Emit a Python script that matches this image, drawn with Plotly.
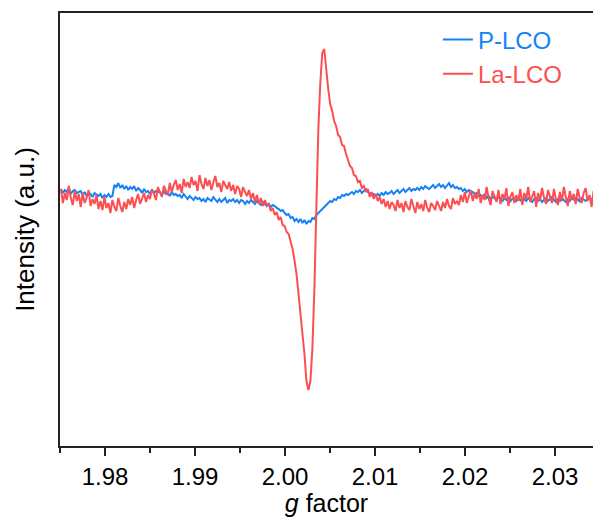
import numpy as np
import plotly.graph_objects as go

# g-factor sampling (start, step)
g_start = 1.9751
g_step = 0.00022

# Intensities (a.u.) (baseline ~0)
p_lco = [6, 2, 5, 3, 7, 1, 4, 5, 2, 3,
         4, 0, 3, -1, 2, 1, -2, 2, 0, -1,
         1, -3, 0, -2, 1, -2, -1,
         10, 8, 12,
         7, 10, 6, 9, 5, 8, 6, 9, 4, 7,
         5, 2, 6, 3, 4, 1, 5, 2, 4, 3,
         3, 0, 4, 1, 2, -1, 3, 0, 1, -1,
         0, -3, 1, -2, -4, -1, -3, -5, -2, -4,
         -3, -6, -4, -7, -3, -5, -6, -2, -5, -7,
         -4, -7, -5, -3, -8, -5, -6, -4, -7, -5,
         -8, -5, -6, -9, -6, -8, -5, -7, -9, -6,
         -8, -10, -7, -9, -11, -9, -12, -10, -11, -13,
         -14, -16, -15, -18, -20, -19, -23, -22, -26, -24,
         -27, -24, -28, -25, -29, -26, -27, -23, -24, -20,
         -18, -15, -14, -11, -9, -8, -6, -7, -4, -5,
         -2, -3, 0, -1, 1, 0, 2, 3, 1, 4,
         3, 5, 2, 4, 6, 3, 2, 0, 1, -1,
         1, -1, 2, 0, 3, 1, 2, 4, 1, 3,
         5, 2, 4, 6, 3, 5, 7, 4, 6, 5,
         7, 5, 8, 6, 9, 7, 6, 8, 10, 7,
         9, 11, 8, 10, 7, 9, 12, 8, 10, 7,
         8, 6, 7, 4, 6, 3, 5, 2, 3, 1,
         2, -1, 0, -2, 1, -3, -1, -4, -2, -3,
         -5, -2, -4, -6, -3, -5, -2, -6, -4, -3,
         -6, -3, -5, -7, -4, -6, -3, -5, -7, -4,
         -3, -6, -4, -7, -5, -3, -6, -4, -2, -5,
         -7, -4, -6, -3, -5, -7, -4, -6, -3, -5,
         -6, -4, -7, -3, -5, -6, -4, -2, -5, -6, -4]

la_lco = [6, -8, 2, -5, 9, -3, -10, 4, -6, 1,
          -12, 2, -8, -3, 5, -11, -4, -9, 0, -14,
          -6, -15, -2, -13, -8, -18, -5, -12, -16, -3,
          -11, -17, -7, -14, -4,
          -10, -2, -13, -5, 1, -9, -3, 2, -7, 0,
          -4, 6, 1, -5, 8, 2, -2, 9, 4, 0,
          12, 3, 10, 15, 5, 11, 2, 16, 8, 13,
          7, 18, 10, 14, 4, 20, 11, 6, 17, 9,
          15, 5, 13, 19, 8, 12, 3, 14, 10, 6,
          13, 4, 10, 1, 9, 6, -2, 8, 3, -1,
          5, -4, 2, -7, 0, -9, -3, -11, -5, -10,
          -9, -16, -13, -20, -17, -25, -22,
          -30, -31, -37, -39, -47, -54, -66, -79, -99, -117, -141, -159, -186,
          -195, -186, -154, -95, -10, 65, 112, 142, 146, 124, 106,
          91, 84, 74, 69, 60, 58, 50, 49, 41, 36, 29, 27, 20, 19, 13,
          14, 7, 9, 3, 6, -2, 3, -4, 1, -6,
          -2, -9, -4, -12, -6, -14, -7, -10, -16, -5,
          -13, -8, -17, -6, -12, -15, -4, -11, -18, -7,
          -14, -9, -16, -5, -13, -17, -8, -11, -15, -6,
          -12, -16, -7, -13, -4, -11, -14, -3, -9, -6,
          -10, 0, -7, 3, -8, -2, 5, -6, 1, -4,
          6, -8, 0, -5, 8, -3, -10, 4, -1, -7,
          5, -9, 1, -4, 7, -11, -2, 3, -8, 0,
          -6, 6, -10, 2, -4, 8, -7, -1, 4, -12,
          2, -5, 7, -3, -9, 5, -1, -8, 6, -4,
          -10, 3, -6, 8, -2, -11, 4, -5, 1, -9,
          6, -3, -8, 2, 7, -6, 0, -12, 4, -2]

g_blue = np.round(g_start + g_step * np.arange(len(p_lco)), 6)
g_red = np.round(g_start + g_step * np.arange(len(la_lco)), 6)

blue = "#1582f5"
red = "#fc4f52"
axis_col = "#222222"

fig = go.Figure()
fig.add_trace(go.Scatter(x=g_blue, y=p_lco, mode="lines",
                         line=dict(color=blue, width=2),
                         name=f"<span style='color:{blue}'>P-LCO</span>"))
fig.add_trace(go.Scatter(x=g_red, y=la_lco, mode="lines",
                         line=dict(color=red, width=2),
                         name=f"<span style='color:{red}'>La-LCO</span>"))

fig.update_layout(
    width=593, height=517,
    margin=dict(l=60, r=0, t=13, b=71),
    plot_bgcolor="white", paper_bgcolor="white",
    font=dict(family="Liberation Sans, Arial, sans-serif", size=24, color="black"),
    showlegend=True,
    legend=dict(x=0.709, y=0.99, xanchor="left", yanchor="top",
                bgcolor="rgba(0,0,0,0)", font=dict(size=24),
                tracegroupgap=0),
    xaxis=dict(range=[1.975, 2.03422], tick0=1.98, dtick=0.01, tickformat=".2f",
               showline=True, linecolor=axis_col, linewidth=1.5, mirror=True,
               ticks="outside", ticklen=8, tickwidth=1.5, tickcolor=axis_col,
               minor=dict(dtick=0.005, tick0=1.975, ticks="outside", ticklen=5,
                          tickwidth=1.5, tickcolor=axis_col),
               showgrid=False, zeroline=False,
               tickfont=dict(size=24),
               title=dict(text="<i>g</i> factor", font=dict(size=25), standoff=9)),
    yaxis=dict(range=[-251, 182], showticklabels=False, ticks="",
               showline=True, linecolor=axis_col, linewidth=1.5, mirror=False,
               showgrid=False, zeroline=False,
               title=dict(text="Intensity (a.u.)", font=dict(size=26), standoff=16)),
)

fig.write_html("out.html")
